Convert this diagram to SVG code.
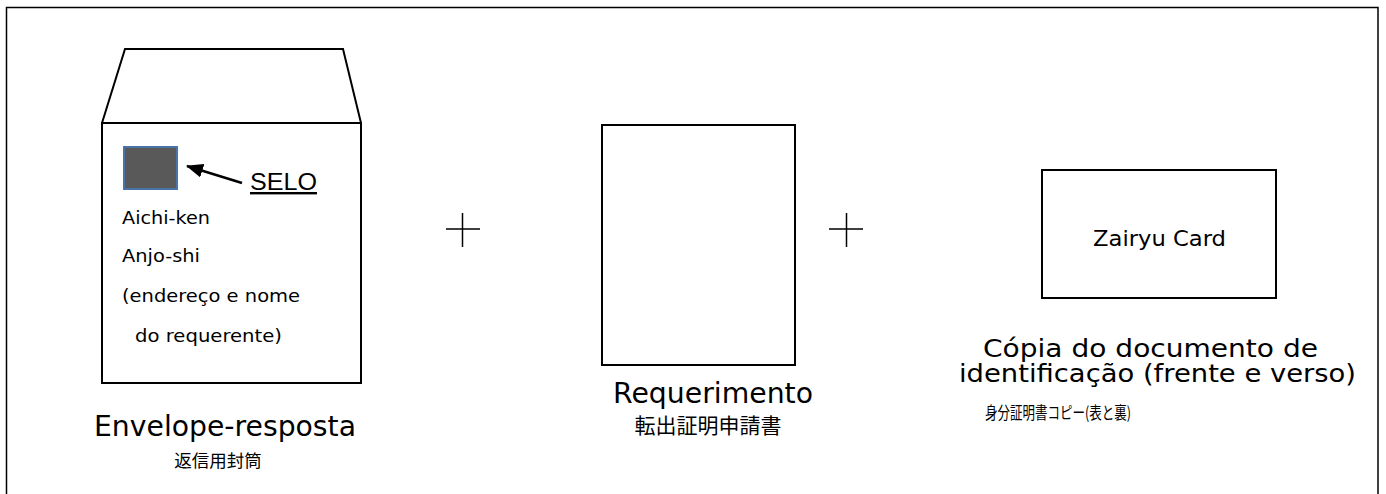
<svg xmlns="http://www.w3.org/2000/svg" width="1386" height="494" viewBox="0 0 1386 494">
<style>
.ln{fill:none;stroke:#000;stroke-width:2}
.t{font-family:"DejaVu Sans","Noto Sans CJK JP",sans-serif;fill:#000}
.j{font-family:"Noto Sans CJK JP",sans-serif;fill:#000}
</style>
<defs>
<marker id="ah" markerWidth="18" markerHeight="14" refX="16" refY="7" orient="auto" markerUnits="userSpaceOnUse">
<path d="M0,0 L17,7 L0,14 z" fill="#000"/>
</marker>
</defs>
<rect width="1386" height="494" fill="#fff"/>
<path d="M6.5,500 V7.5 H1378 V500" fill="none" stroke="#000" stroke-width="1.5"/>
<g id="envelope">
<path class="ln" d="M102,123 L125,49 L343,49 L361,123"/>
<rect class="ln" x="102" y="123" width="259" height="260"/>
<rect x="124" y="147" width="53" height="42" fill="#595959" stroke="#4a74a8" stroke-width="2"/>
<text x="250" y="190" font-family="Liberation Sans, sans-serif" font-size="24" text-decoration="underline" fill="#000" textLength="67" lengthAdjust="spacingAndGlyphs">SELO</text>
<text class="t" x="122" y="224" font-size="18.5" textLength="88" lengthAdjust="spacingAndGlyphs">Aichi-ken</text>
<text class="t" x="122" y="262" font-size="18.5" textLength="78" lengthAdjust="spacingAndGlyphs">Anjo-shi</text>
<text class="t" x="122" y="302" font-size="18.5" textLength="178" lengthAdjust="spacingAndGlyphs">(endereço e nome</text>
<text class="t" x="135" y="342" font-size="18.5" textLength="147" lengthAdjust="spacingAndGlyphs">do requerente)</text>
<text class="t" x="94" y="436" font-size="28" textLength="262" lengthAdjust="spacingAndGlyphs">Envelope-resposta</text>
<text class="j" x="218" y="467" font-size="17.5" text-anchor="middle">返信用封筒</text>
</g>
<g id="connectors">
<line x1="242" y1="183" x2="187" y2="166" stroke="#000" stroke-width="2.5" marker-end="url(#ah)"/>
</g>
<g id="plus1">
<path d="M446,229 H480 M462.5,213 V247" stroke="#000" stroke-width="1.5"/>
</g>
<g id="requerimento">
<rect class="ln" x="602" y="125" width="193" height="240"/>
<text class="t" x="613" y="403" font-size="28" textLength="200" lengthAdjust="spacingAndGlyphs">Requerimento</text>
<text class="j" x="708" y="433" font-size="21" text-anchor="middle">転出証明申請書</text>
</g>
<g id="plus2">
<path d="M829,229 H863 M846.5,213 V247" stroke="#000" stroke-width="1.5"/>
</g>
<g id="card">
<rect class="ln" x="1042" y="170" width="234" height="128"/>
<text class="t" x="1093" y="246" font-size="21" textLength="133" lengthAdjust="spacingAndGlyphs">Zairyu Card</text>
<text class="t" x="983" y="357" font-size="25" textLength="335" lengthAdjust="spacingAndGlyphs">Cópia do documento de</text>
<text class="t" x="959" y="382" font-size="25" textLength="397" lengthAdjust="spacingAndGlyphs">identificação (frente e verso)</text>
<text class="j" x="985" y="419" font-size="16.5" textLength="146" lengthAdjust="spacingAndGlyphs">身分証明書コピー(表と裏)</text>
</g>
</svg>
